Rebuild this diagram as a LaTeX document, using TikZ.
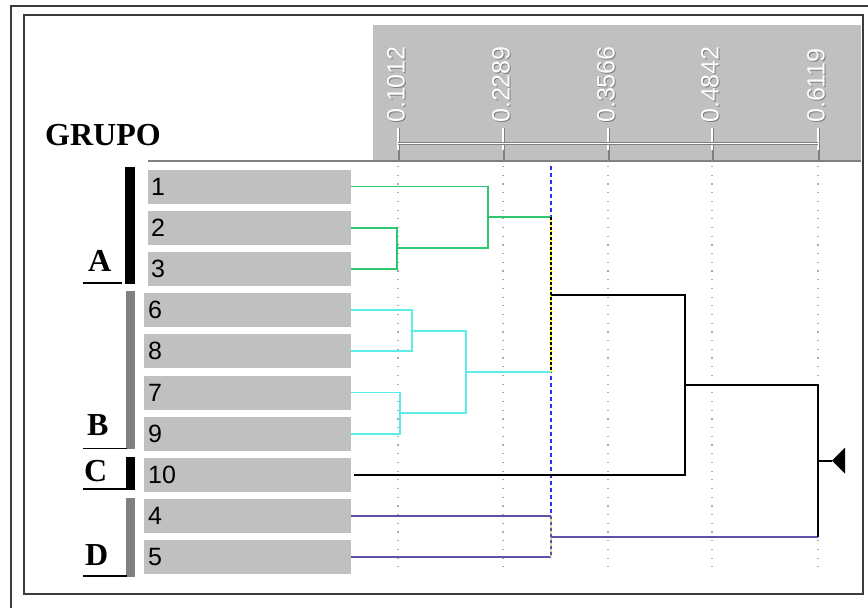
\documentclass[tikz,border=0pt]{standalone}
\usepackage{fontspec}
\setmainfont{Liberation Serif}
\newfontfamily\lsans{Liberation Sans}
\usetikzlibrary{calc}
\definecolor{boxgray}{RGB}{192,192,192}
\definecolor{midgray}{RGB}{128,128,128}
\definecolor{framec}{RGB}{60,60,60}
\definecolor{gridc}{RGB}{170,170,170}
\definecolor{grn}{RGB}{45,200,110}
\definecolor{cyn}{RGB}{90,235,235}
\definecolor{pur}{RGB}{100,80,170}
\definecolor{cutblue}{RGB}{40,50,255}
\definecolor{ylw}{RGB}{255,255,0}
\definecolor{lgrn}{RGB}{200,225,160}
\begin{document}
\begin{tikzpicture}[x=1pt,y=-1pt,
  leafA/.style={rectangle,fill=boxgray,minimum height=34pt,inner xsep=3pt,inner ysep=0pt,
    anchor=west,align=left,text width=197pt,font=\lsans\fontsize{25}{25}\selectfont},
  leafB/.style={leafA,inner xsep=4pt,text width=199pt},
  ticklab/.style={rotate=90,anchor=west,inner sep=0pt,text=white,font=\lsans\fontsize{25}{25}\selectfont},
  tickshadow/.style={ticklab,text=midgray},
  grp/.style={anchor=base west,inner sep=0pt,font=\bfseries\fontsize{32}{32}\selectfont},
  dline/.style={line width=1.9pt},
  gridline/.style={gridc,line width=1.2pt,dash pattern=on 1.2pt off 7.5pt}
]
\useasboundingbox (0,0) rectangle (868,608);
\fill[white] (0,0) rectangle (868,608);
% frames
\draw[framec,line width=2pt] (11,608) -- (11,6) -- (868,6);
\draw[framec,line width=2pt] (24,15) rectangle (863,594);
% header
\fill[boxgray] (373,25) rectangle (861,160);
\draw[midgray,line width=1.5pt] (148,161) -- (861,161);
% axis
\foreach \x in {398,503,608,712,818}{
  \draw[midgray,line width=1.4pt] (\x+1,128) -- (\x+1,160);
  \draw[white,line width=1.4pt] (\x,128) -- (\x,150);
}
\draw[midgray,line width=3.5pt] (398,143.5) -- (818,143.5);
\draw[white,line width=1.5pt] (398,143.5) -- (818,143.5);
\foreach \x/\v/\n in {398/0.1012/1,503/0.2289/2,608/0.3566/3,712/0.4842/4,818/0.6119/5}{
  \node[tickshadow] (ts\n) at (\x-1,124) {\v};
  \node[ticklab] (t\n) at (\x-2,123) {\v};
}
% grid
\foreach \x in {398,503,608,712,818}
  \draw[gridline] (\x,166) -- (\x,568);
% cut line
\draw[cutblue,line width=1.8pt,dash pattern=on 4pt off 3pt] (551,166) -- (551,558);
% title and groups
\node[grp] (grupo) at (45,145) {GRUPO};
\fill[black] (125,167) rectangle (135,284);
\fill[midgray] (126,291) rectangle (135,449);
\fill[black] (126,457) rectangle (135,490);
\fill[midgray] (126,498) rectangle (135,577);
\draw[black,line width=1.7pt] (83,283) -- (122,283);
\draw[black,line width=1.7pt] (83,448.5) -- (127,448.5);
\draw[black,line width=1.7pt] (83,489) -- (127,489);
\draw[black,line width=1.7pt] (83,576) -- (127,576);
\node[grp] (gA) at (88,271) {A};
\node[grp] (gB) at (87,435) {B};
\node[grp] (gC) at (84,481) {C};
\node[grp] (gD) at (85,565) {D};
% leaves
\node[leafA] (l1) at (148,186.5) {1};
\node[leafA] (l2) at (148,227.7) {2};
\node[leafA] (l3) at (148,268.9) {3};
\node[leafB] (l6) at (144,310.1) {6};
\node[leafB] (l8) at (144,351.3) {8};
\node[leafB] (l7) at (144,392.5) {7};
\node[leafB] (l9) at (144,433.7) {9};
\node[leafB] (l10) at (144,474.9) {10};
\node[leafB] (l4) at (144,516.1) {4};
\node[leafB] (l5) at (144,557.3) {5};
% merge points
\coordinate (m23) at (397,248.3);
\coordinate (mA) at (488,217.4);
\coordinate (m68) at (412,330.7);
\coordinate (m79) at (400,413.1);
\coordinate (mB) at (466,371.9);
\coordinate (mAB) at (551,294.6);
\coordinate (mABC) at (685,384.8);
\coordinate (m45) at (551,536.7);
\coordinate (root) at (818,460.7);
\coordinate (tip) at (832,460.7);
% green cluster
\draw[grn,dline] (l2.east) -| (m23) |- (l3.east);
\draw[grn,dline] (l1.east) -| (mA) |- (m23);
\draw[grn,dline] (mA) -- (mA -| mAB);
% cyan cluster
\draw[cyn,dline] (l6.east) -| (m68) |- (l8.east);
\draw[cyn,dline] (l7.east) -| (m79) |- (l9.east);
\draw[cyn,dline] (m68) -| (mB) |- (m79);
\draw[cyn,dline] (mB) -- (mB -| mAB);
% AB join (highlighted)
\draw[ylw,line width=2.2pt] (mA -| mAB) -- (mB -| mAB);
\draw[black,line width=1.8pt,dash pattern=on 3pt off 2pt] (mA -| mAB) -- (mB -| mAB);
% black
\draw[black,dline] (mAB) -| (mABC) |- ($(l10.east)+(3,0)$);
% purple cluster
\draw[pur,dline] (l4.east) -- (l4.east -| m45);
\draw[pur,dline] (l5.east) -- (l5.east -| m45);
\draw[lgrn,line width=2.2pt] (l4.east -| m45) -- (l5.east -| m45);
\draw[pur,line width=1.8pt,dash pattern=on 3pt off 3pt] (l4.east -| m45) -- (l5.east -| m45);
\draw[pur,dline] (m45) -- (m45 -| root);
% root
\draw[black,dline] (mABC) -| (root) -- (root |- m45);
\draw[black,dline] (root) -- (tip);
\fill[black] (tip) -- ++(13,-13) -- ++(0,26) -- cycle;
\end{tikzpicture}
\end{document}
